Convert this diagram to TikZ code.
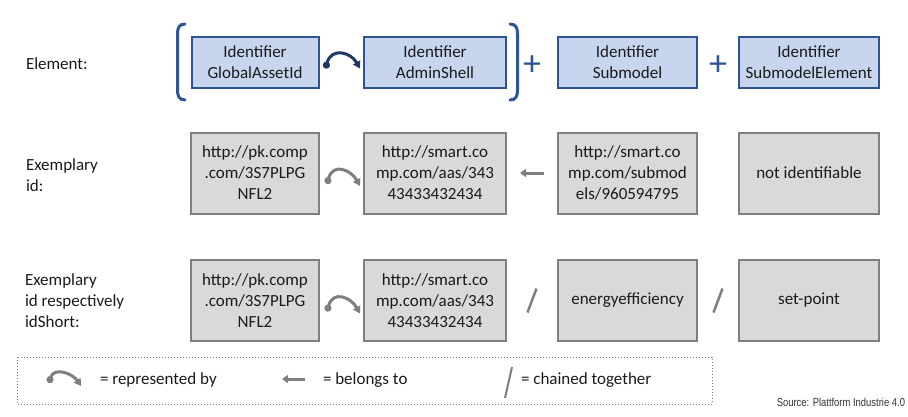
\documentclass[tikz,border=0pt]{standalone}
\usepackage{fontspec}
\setmainfont{Carlito}
\newfontfamily\srcfont[FakeStretch=0.82]{Liberation Sans}
\usetikzlibrary{arrows.meta,calc}
\definecolor{bluefill}{HTML}{C7D6EE}
\definecolor{blueline}{HTML}{2F5290}
\definecolor{plusblue}{HTML}{2F5597}
\definecolor{arrowblue}{HTML}{203864}
\definecolor{greyfill}{HTML}{D9D9D9}
\definecolor{greyline}{HTML}{7F7F7F}
\definecolor{txt}{HTML}{1A1A1A}
\begin{document}
\begin{tikzpicture}[x=1pt,y=-1pt,
  every node/.style={inner sep=0pt, outer sep=0pt, text=txt, font=\fontsize{17}{21}\selectfont},
  bluebox/.style={draw=blueline, fill=bluefill, line width=2pt, minimum height=51pt, align=center},
  greybox/.style={draw=greyline, fill=greyfill, line width=2pt, minimum height=81pt, align=center},
  rowlabel/.style={anchor=west, align=left},
  plussign/.style={text=plusblue, font=\fontsize{36}{36}\selectfont},
  bracket/.style={draw=plusblue, line width=3pt, line cap=round},
  repby/.style={line width=3pt, {Circle[length=7pt]}-{Triangle[length=7pt,width=8pt]}},
  belongs/.style={draw=greyline, line width=3pt, -{Triangle[length=6pt,width=8pt]}},
  chained/.style={draw=greyline, line width=2.5pt},
  legendtext/.style={anchor=base west}
]
\useasboundingbox (0,0) rectangle (908,416);

% row labels
\node[rowlabel] (l1) at (26,64) {Element:};
\node[rowlabel] (l2) at (26,175) {Exemplary\\id:};
\node[rowlabel] (l3) at (25,301) {Exemplary\\id respectively\\idShort:};

% row 1
\node[bluebox, minimum width=127pt] (a1) at (255,62.5) {Identifier\\GlobalAssetId};
\node[bluebox, minimum width=142pt] (a2) at (435,62.5) {Identifier\\AdminShell};
\node[bluebox, minimum width=139pt] (a3) at (627.5,62.5) {Identifier\\Submodel};
\node[bluebox, minimum width=140pt] (a4) at (809,62.5) {Identifier\\SubmodelElement};
\node[plussign] (p1) at ($(a2.east)!0.5!(a3.west)+(0,3)$) {+};
\node[plussign] (p2) at ($(a3.east)!0.5!(a4.west)+(0,3)$) {+};

% brackets
\draw[bracket] (185,24) .. controls (179,24) and (177.5,28) .. (177.5,34) -- (177.5,90) .. controls (177.5,96) and (179,100) .. (185,100);
\draw[bracket] (510,24) .. controls (516,24) and (517.5,28) .. (517.5,34) -- (517.5,90) .. controls (517.5,96) and (516,100) .. (510,100);

\draw[repby, draw=arrowblue] ($(a1.east)+(7,6)$) .. controls +(6,-22) and +(-9,-16) .. ($(a2.west)+(-4,6)$);

% row 2
\node[greybox, minimum width=128pt] (b1) at (255,173) {http://pk.comp\\.com/3S7PLPG\\NFL2};
\node[greybox, minimum width=142pt] (b2) at (435,173) {http://smart.co\\mp.com/aas/343\\43433432434};
\node[greybox, minimum width=139pt] (b3) at (627.5,173) {http://smart.co\\mp.com/submod\\els/960594795};
\node[greybox, minimum width=140pt] (b4) at (809,173) {not identifiable};

\draw[repby, draw=greyline] ($(b1.east)+(8,11)$) .. controls +(6,-22) and +(-9,-16) .. ($(b2.west)+(-4,13)$);
\draw[belongs] ($(b3.west)+(-14,0)$) -- ($(b2.east)+(14,0)$);

% row 3
\node[greybox, minimum width=128pt] (c1) at (255,300.5) {http://pk.comp\\.com/3S7PLPG\\NFL2};
\node[greybox, minimum width=142pt] (c2) at (435,300.5) {http://smart.co\\mp.com/aas/343\\43433432434};
\node[greybox, minimum width=139pt] (c3) at (627.5,300.5) {energyefficiency};
\node[greybox, minimum width=140pt] (c4) at (809,300.5) {set-point};

\draw[repby, draw=greyline] ($(c1.east)+(8,11)$) .. controls +(6,-22) and +(-9,-16) .. ($(c2.west)+(-4,13)$);
\draw[chained] ($(c2.east)!0.5!(c3.west)+(-4.5,12)$) -- ($(c2.east)!0.5!(c3.west)+(4.5,-12)$);
\draw[chained] ($(c3.east)!0.5!(c4.west)+(-4.5,12)$) -- ($(c3.east)!0.5!(c4.west)+(4.5,-12)$);

% legend
\draw[greyline, line width=1pt, dotted] (17,357) rectangle (712,404);
\coordinate (r1) at (49,383);
\coordinate (r2) at (81,386);
\draw[repby, draw=greyline] (r1) .. controls +(5,-17) and +(-8,-12) .. (r2);
\node[legendtext] (t1) at (100,384) {= represented by};
\coordinate (bl1) at (305,379);
\coordinate (bl2) at (282,379);
\draw[belongs] (bl1) -- (bl2);
\node[legendtext] (t2) at (323,384) {= belongs to};
\coordinate (ch1) at (505,398);
\coordinate (ch2) at (512,367);
\draw[chained, line width=2pt] (ch1) -- (ch2);
\node[legendtext] (t3) at (521,384) {= chained together};

\node[anchor=east, font=\srcfont\fontsize{11.5}{12}\selectfont, text=black!80] (src) at (905,402) {Source: Plattform Industrie 4.0};
\end{tikzpicture}
\end{document}
